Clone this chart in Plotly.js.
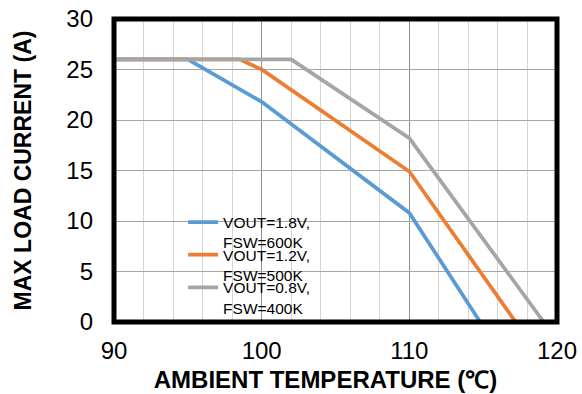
<!DOCTYPE html>
<html><head><meta charset="utf-8">
<script src="https://cdn.plot.ly/plotly-3.0.1.min.js"></script>
<style>html,body{margin:0;padding:0;background:#fff}</style>
</head><body><div id="chart" style="width:582px;height:394px"></div>
<script>
const seriesNames = ['VOUT=1.8V,<br>FSW=600K', 'VOUT=1.2V,<br>FSW=500K', 'VOUT=0.8V,<br>FSW=400K'];
const tempBlue = [90, 95, 100, 110, 114.8];
const currBlue = [26, 26, 21.8, 10.8, 0];
const tempOrange = [90, 98.5, 100, 110, 117.2];
const currOrange = [26, 26, 25, 14.9, 0];
const tempGray = [90, 102, 110, 119.1];
const currGray = [26, 26, 18.2, 0];
const xTicks = [90, 100, 110, 120];
const yTicks = [0, 5, 10, 15, 20, 25, 30];

const FONT = 'Liberation Sans, Arial, sans-serif';
const colors = ['#5B9BD5', '#ED7D31', '#A5A5A5'];
const xs = [tempBlue, tempOrange, tempGray];
const ys = [currBlue, currOrange, currGray];
const legendIds = ['legend', 'legend2', 'legend3'];

const traces = xs.map((x, i) => ({
  type: 'scatter', mode: 'lines', x: x, y: ys[i], name: seriesNames[i],
  line: {color: colors[i], width: 3.75}, legend: legendIds[i], hoverinfo: 'skip'
}));

function legendAt(y) {
  return {x: 0.156, y: y, xanchor: 'left', yanchor: 'top', bgcolor: 'rgba(0,0,0,0)',
    borderwidth: 0, valign: 'top', font: {family: FONT, size: 15.5, color: '#000'}};
}

const layout = {
  width: 582, height: 394,
  margin: {l: 114, r: 25, t: 19, b: 72},
  paper_bgcolor: '#fff', plot_bgcolor: '#fff',
  font: {family: FONT, color: '#000'},
  showlegend: true,
  legend: legendAt(0.384),
  legend2: legendAt(0.277),
  legend3: legendAt(0.169),
  xaxis: {
    range: [90, 120], tickmode: 'array', tickvals: xTicks, ticktext: xTicks.map(String),
    showgrid: true, gridcolor: '#8f8f8f', gridwidth: 1,
    minor: {tickmode: 'linear', tick0: 90, dtick: 2, showgrid: true, gridcolor: '#d4d4d4', gridwidth: 1, ticks: ''},
    zeroline: false, showline: false, ticks: '', ticklabelstandoff: 12,
    tickfont: {family: FONT, size: 24, color: '#000'},
    title: {text: 'AMBIENT TEMPERATURE (℃)&nbsp;&nbsp;&nbsp;', standoff: 8, font: {family: FONT, size: 24, weight: 'bold', color: '#000'}}
  },
  yaxis: {
    range: [0, 30], tickmode: 'array', tickvals: yTicks, ticktext: yTicks.map(String),
    showgrid: true, gridcolor: '#a6a6a6', gridwidth: 1,
    zeroline: false, showline: false, ticks: '', ticklabelstandoff: 20,
    tickfont: {family: FONT, size: 24, color: '#000'},
    title: {text: 'MAX LOAD CURRENT (A)', standoff: 28, font: {family: FONT, size: 23, weight: 'bold', color: '#000'}}
  },
  shapes: [
    {type: 'rect', xref: 'paper', yref: 'paper', x0: 0.043, x1: 0.517, y0: 0.03, y1: 0.353,
      fillcolor: '#fff', line: {width: 0}, layer: 'between'},
    {type: 'rect', xref: 'paper', yref: 'paper', x0: 0, x1: 1, y0: 0, y1: 1,
      fillcolor: 'rgba(0,0,0,0)', line: {color: '#000', width: 5}, layer: 'above'}
  ]
};

Plotly.newPlot('chart', traces, layout, {staticPlot: true, displayModeBar: false});
</script></body></html>
